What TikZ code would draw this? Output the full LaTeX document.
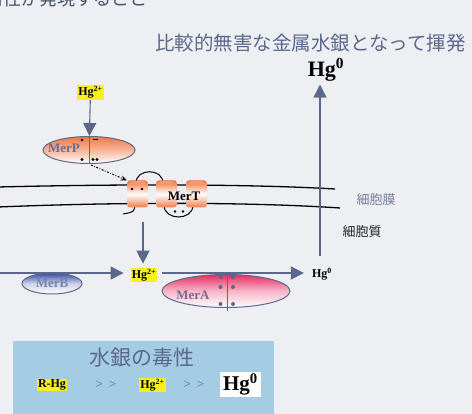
\documentclass[tikz,border=0pt]{standalone}
\usepackage{fontspec}
\setmainfont{Liberation Serif}
\newfontfamily\jpfont{Noto Sans CJK JP}
\usetikzlibrary{shapes.geometric}
\usetikzlibrary{arrows.meta}

\definecolor{paper}{RGB}{237,239,243}
\definecolor{slate}{RGB}{92,104,138}
\definecolor{headtext}{RGB}{70,80,105}
\definecolor{hgyellow}{RGB}{248,240,30}
\definecolor{panel}{RGB}{164,204,226}
\definecolor{merporange}{RGB}{240,120,70}
\definecolor{chanorange}{RGB}{238,110,50}
\definecolor{merapink}{RGB}{232,45,100}
\definecolor{merbblue}{RGB}{55,75,165}
\definecolor{merptext}{RGB}{105,108,150}
\definecolor{merbtext}{RGB}{120,132,168}
\definecolor{meratext}{RGB}{128,104,138}

\newcommand{\hgtwo}{Hg\textsuperscript{2+}}
\newcommand{\hgzero}{Hg\textsuperscript{0}}

\tikzset{
  flow/.style={draw=slate, line width=1.1pt, -{Triangle[length=13pt,width=13pt]}},
  ion/.style={fill=hgyellow, inner sep=1pt, font=\bfseries\fontsize{12}{12}\selectfont},
  enzyme/.style={ellipse, draw=slate, line width=1pt, inner sep=0pt},
  enzname/.style={font=\bfseries\fontsize{13}{13}\selectfont, inner sep=0pt},
  channel/.style={rectangle, rounded corners=3pt, minimum width=21pt, minimum height=27pt,
    top color=chanorange, bottom color=chanorange!90, middle color=white, inner sep=0pt},
  membrane/.style={line width=1.3pt},
  jplabel/.style={font=\jpfont\fontsize{13}{13}\selectfont},
  gt/.style={text=slate, font=\fontsize{13}{13}\selectfont},
}

\begin{document}
\begin{tikzpicture}[x=1pt,y=-1pt]
  \clip (0,0) rectangle (472,414);
  \fill[paper] (0,0) rectangle (472,414);

  % headings
  \node[anchor=base east, text=headtext, inner sep=0pt,
    font=\jpfont\fontsize{18}{18}\selectfont] (head) at (148,6) {耐性が発現すること};
  \node[text=slate, font=\jpfont\fontsize{19.5}{20}\selectfont] (title) at (310.5,43)
    {比較的無害な金属水銀となって揮発};
  \node[font=\bfseries\fontsize{22}{22}\selectfont, inner sep=1pt] (hgtop) at (326,70) {\hgzero};

  % outside the cell: MerP
  \node[ion] (hgout) at (90.5,92.5) {\hgtwo};
  \node[enzyme, minimum width=92pt, minimum height=27pt,
    top color=merporange, bottom color=white, middle color=merporange!55] (merp) at (89,150) {};
  \draw[slate, line width=1pt] (merp.north) -- (merp.south);
  \node[enzname, text=merptext] at (64,148) {MerP};
  \fill (82,140) circle (1.3pt);
  \draw[line width=1.5pt] (93,139.5) -- (98,139.5);
  \foreach \x in {82,93,97} \fill (\x,159.5) circle (1.6pt);
  \draw[flow] (hgout) -- (merp);

  % membrane with MerT
  \draw[membrane] (-2,187) .. controls (120,184) and (250,184) .. (335,189);
  \draw[membrane] (-2,207) .. controls (120,202) and (250,202) .. (340,208);
  \draw[line width=1pt] (136,183) .. controls (136,168) and (163,168) .. (163,183);
  \draw[line width=1pt] (164,205) .. controls (164,221) and (193,221) .. (193,205);
  \draw[line width=1pt] (135,205) .. controls (134,212) .. (123,214);
  \node[channel] (ch1) at (137.5,194) {};
  \node[channel] (ch2) at (166.5,194) {};
  \node[channel] (ch3) at (196.5,194) {};
  \foreach \c in {ch1,ch2,ch3}
    \fill[chanorange!70!white] ([yshift=-2.5pt]\c.north) ellipse (8.5pt and 2pt);
  \foreach \x in {132,142} \fill (\x,189) circle (1.4pt);
  \foreach \x in {175,183} \fill (\x,211.5) circle (1.4pt);
  \node[enzname] (mert) at (184,196) {MerT};
  \draw[line width=1pt, dash pattern=on 2pt off 1.5pt on 0.8pt off 1.5pt,
    -{Stealth[length=6pt,width=5pt]}] (91,165) -- (ch1.north west);

  \node[jplabel, text=slate!85] (mem) at (376,200) {細胞膜};
  \node[jplabel, text=black!85] (cyto) at (362,232) {細胞質};

  % cytoplasm: MerB and MerA
  \node[enzyme, minimum width=60pt, minimum height=21pt,
    top color=merbblue, bottom color=white, middle color=merbblue!25] (merb) at (52,283.5) {};
  \node[enzname, text=merbtext] at (merb) {MerB};
  \node[enzyme, minimum width=128pt, minimum height=33pt,
    top color=merapink, bottom color=white, middle color=merapink!35] (mera) at (226,291) {};
  \draw[slate, line width=1pt] ([xshift=1pt,yshift=2pt]mera.north) -- ([xshift=1pt,yshift=-3pt]mera.south);
  \foreach \y in {277,287,304}
    \foreach \x in {220.5,233} \fill[slate] (\x,\y) circle (2pt);
  \node[enzname, text=meratext] at (193,295) {MerA};

  \node[ion] (hgin) at (144,275) {\hgtwo};
  \node[font=\bfseries\fontsize{12}{12}\selectfont, inner sep=1pt] (hgmid) at (322,274) {\hgzero};
  \coordinate (drop) at (143,222);
  \coordinate (inflow) at (0,273);
  \coordinate (rise) at (320,256);
  \draw[flow, shorten >=4pt] (drop) -- (drop |- hgin.north);
  \draw[flow, shorten >=7pt] (inflow) -- (inflow -| hgin.west);
  \draw[flow, shorten <=5pt, shorten >=7pt] (inflow -| hgin.east) -- (inflow -| hgmid.west);
  \draw[flow, shorten >=2pt] (rise) -- (rise |- hgtop.south);

  % toxicity panel
  \fill[panel] (13,341) rectangle (274,420);
  \node[text=slate, font=\jpfont\fontsize{21}{21}\selectfont] (toxic) at (141.5,357.5) {水銀の毒性};
  \node[ion] (rhg) at (52,385) {R-Hg};
  \node[gt] (gt1) at (106,385) {>\hspace{6pt}>};
  \node[ion] (hgmed) at (152.5,385) {\hgtwo};
  \node[gt] (gt2) at (194,385) {>\hspace{6pt}>};
  \node[fill=white, inner xsep=3.5pt, inner ysep=2pt,
    font=\bfseries\fontsize{21}{21}\selectfont] (hgsafe) at (240.5,384.5) {\hgzero};
\end{tikzpicture}
\end{document}
